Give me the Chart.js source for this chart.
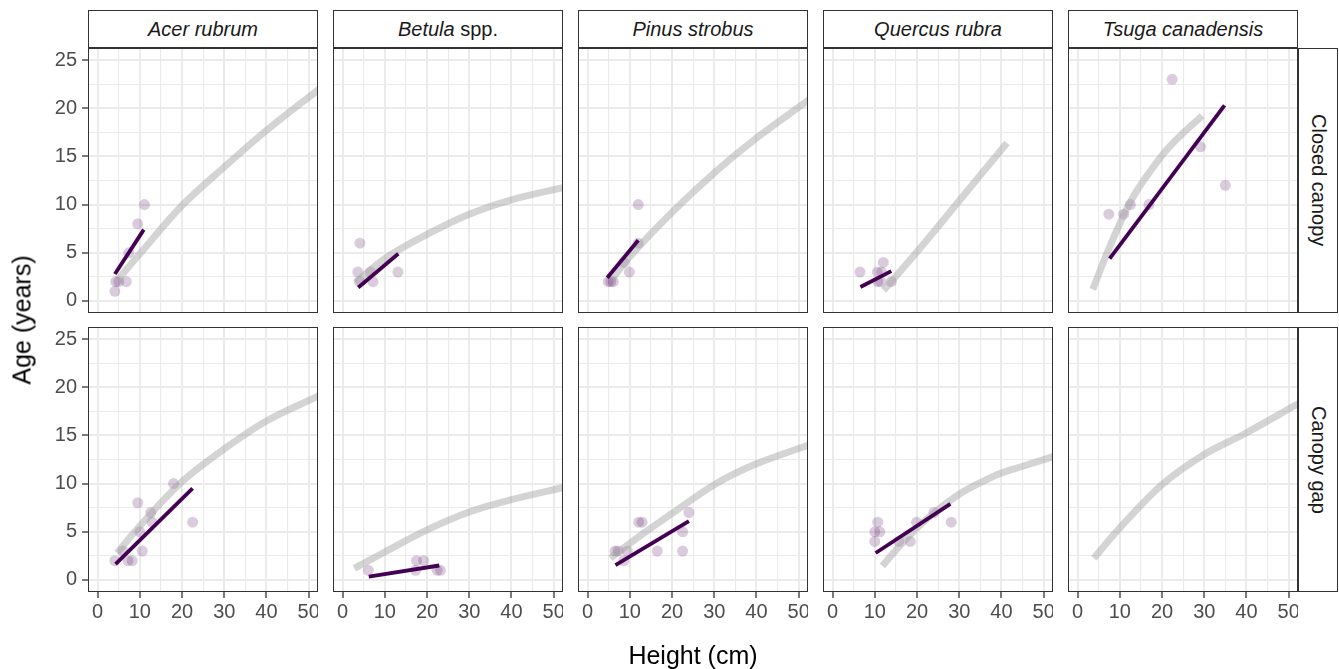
<!DOCTYPE html>
<html>
<head>
<meta charset="utf-8">
<script src="https://cdn.jsdelivr.net/npm/chart.js@4"></script>
<style>
  body { margin: 0; background: #fff; font-family: "Liberation Sans", Arial, sans-serif; }
  #wrap { position: relative; width: 1339px; height: 669px; overflow: hidden; }
  canvas { position: absolute; }
  .strip { position: absolute; box-sizing: border-box; border: 1px solid #333; background: #fff;
           display: flex; align-items: center; justify-content: center; color: #1a1a1a; font-size: 20px; }
  .strip.top { font-style: italic; }
  .strip.top span { font-style: normal; }
  .strip.side { writing-mode: vertical-rl; }
  .title { position: absolute; font-size: 25px; color: #000; white-space: nowrap; }
</style>
</head>
<body>
<div id="wrap"></div>
<script>
// Faceted age ~ height panels: species across, canopy condition down.
// Each panel: observed points, a purple linear fit and a grey reference curve.

var SPECIES = ["Acer rubrum", "Betula spp.", "Pinus strobus", "Quercus rubra", "Tsuga canadensis"];
var CANOPY = ["Closed canopy", "Canopy gap"];
var X_TICKS = [0, 10, 20, 30, 40, 50];
var X_MINOR = [5, 15, 25, 35, 45];
var Y_TICKS = [0, 5, 10, 15, 20, 25];
var Y_MINOR = [2.5, 7.5, 12.5, 17.5, 22.5];

// closed canopy: [height, age]
var acerClosedPts = [[4.1, 1], [4.3, 2], [5.0, 2], [6.8, 2], [7.4, 5], [9.5, 8], [11.1, 10]];
var acerClosedFit = [[4.1, 2.8], [10.95, 7.4]];
var acerClosedRef = [[4.8, 2.2], [10, 4.9], [20, 9.9], [30, 13.9], [40, 17.7], [52.5, 22]];

var betulaClosedPts = [[3.6, 3], [4.0, 2], [4.1, 6], [6.6, 3], [7.2, 2], [13.1, 3]];
var betulaClosedFit = [[3.7, 1.4], [13.2, 4.9]];
var betulaClosedRef = [[3.1, 1.9], [10, 4.4], [20, 6.9], [30, 9.0], [40, 10.5], [52.5, 11.8]];

var pinusClosedPts = [[4.9, 2], [5.5, 2], [6.1, 2], [8.6, 4], [9.9, 3], [12, 6], [12, 10]];
var pinusClosedFit = [[4.65, 2.4], [12, 6.3]];
var pinusClosedRef = [[5.7, 2.2], [10, 4.6], [20, 9.2], [30, 13.3], [40, 16.9], [52.5, 20.9]];

var quercusClosedPts = [[6.5, 3], [10.7, 2], [10.6, 3], [11.4, 2], [11.6, 3], [12, 4], [13.9, 2]];
var quercusClosedFit = [[6.6, 1.45], [13.9, 3.1]];
var quercusClosedRef = [[12.1, 1.1], [20, 5.1], [30, 10.4], [41.3, 16.4]];

var tsugaClosedPts = [[7.4, 9], [10.9, 9], [12.5, 10], [16.9, 10], [22.4, 23], [29.1, 16], [35, 12]];
var tsugaClosedFit = [[7.6, 4.4], [34.8, 20.3]];
var tsugaClosedRef = [[3.6, 1.2], [7.4, 5.4], [12.9, 10.6], [20, 15.1], [24.7, 17.3], [29.5, 19.2]];

// canopy gap
var acerGapPts = [[4.1, 2], [6, 3], [7.2, 2], [8.2, 2], [9.5, 8], [10, 5], [10.6, 3], [12.6, 7], [12.9, 6], [18, 10], [22.5, 6]];
var acerGapFit = [[4.25, 1.65], [22.5, 9.5]];
var acerGapRef = [[4.6, 2.8], [10, 5.6], [20, 10.2], [30, 13.6], [40, 16.5], [52.3, 19.1]];

var betulaGapPts = [[6.1, 1], [17.3, 1], [17.5, 2], [19.2, 2], [22.4, 1], [23.2, 1]];
var betulaGapFit = [[6.2, 0.35], [22.9, 1.5]];
var betulaGapRef = [[2.8, 1.2], [10, 2.9], [20, 5.2], [30.3, 7.1], [39.7, 8.3], [52.3, 9.6]];

var pinusGapPts = [[6.5, 3], [7.2, 3], [8.6, 2], [9.4, 3], [12.1, 6], [12.9, 6], [16.5, 3], [22.5, 3], [22.5, 5], [24, 7]];
var pinusGapFit = [[6.6, 1.55], [24, 6.1]];
var pinusGapRef = [[5.4, 2.25], [10, 3.8], [20, 6.9], [30.3, 9.96], [39.7, 12], [52.3, 14]];

var quercusGapPts = [[10, 4], [10, 5], [10.7, 6], [11.2, 5], [15.7, 4], [18.4, 4], [19.9, 6], [24, 7], [28.1, 6]];
var quercusGapFit = [[10.2, 2.8], [27.9, 7.9]];
var quercusGapRef = [[11.8, 1.45], [15, 3.1], [20, 5.4], [25, 7.3], [30, 8.9], [35, 10.1], [40, 11.1], [45, 11.8], [52.3, 12.8]];

var tsugaGapPts = [];
var tsugaGapFit = [];
var tsugaGapRef = [[3.85, 2.25], [10, 5.4], [20, 9.9], [29.9, 13.0], [39.7, 15.2], [52.3, 18.3]];

var PANELS = [
  [[acerClosedPts, acerClosedFit, acerClosedRef], [betulaClosedPts, betulaClosedFit, betulaClosedRef],
   [pinusClosedPts, pinusClosedFit, pinusClosedRef], [quercusClosedPts, quercusClosedFit, quercusClosedRef],
   [tsugaClosedPts, tsugaClosedFit, tsugaClosedRef]],
  [[acerGapPts, acerGapFit, acerGapRef], [betulaGapPts, betulaGapFit, betulaGapRef],
   [pinusGapPts, pinusGapFit, pinusGapRef], [quercusGapPts, quercusGapFit, quercusGapRef],
   [tsugaGapPts, tsugaGapFit, tsugaGapRef]]
];

var PURPLE = "#440154";
var PANEL_W = 230, PANEL_H = 265, COL_STEP = 245, LEFT0 = 88;
var ROW_TOP = [48, 327];

Chart.defaults.font.family = "'Liberation Sans', Arial, sans-serif";

function xy(pairs) {
  return pairs.map(function (p) { return { x: p[0], y: p[1] }; });
}

var panelBorder = {
  id: "panelBorder",
  afterDraw: function (chart) {
    var a = chart.chartArea, c = chart.ctx;
    c.save();
    c.strokeStyle = "#333";
    c.lineWidth = 1;
    c.strokeRect(a.left + 0.5, a.top + 0.5, a.right - a.left - 1, a.bottom - a.top - 1);
    c.restore();
  }
};

function axis(major, minor, min, max, showLabels, size, horizontal) {
  var all = major.concat(minor).sort(function (a, b) { return a - b; });
  var isMajor = function (ctx) { return ctx.tick && major.indexOf(ctx.tick.value) >= 0; };
  return {
    type: "linear", min: min, max: max,
    afterBuildTicks: function (s) { s.ticks = all.map(function (v) { return { value: v }; }); },
    afterFit: function (s) {
      if (horizontal) s.height = size; else s.width = size;
      s.paddingLeft = 0; s.paddingRight = 0; s.paddingTop = 0; s.paddingBottom = 0;
    },
    border: { display: false },
    grid: {
      color: "#ebebeb",
      lineWidth: function (ctx) { return isMajor(ctx) ? 2 : 1.1; },
      drawTicks: showLabels, tickLength: 6, tickWidth: 1.3,
      tickColor: function (ctx) { return isMajor(ctx) ? "#333" : "rgba(0,0,0,0)"; }
    },
    ticks: {
      display: showLabels, autoSkip: false, maxRotation: 0, padding: horizontal ? 2 : 5,
      color: "#4d4d4d", font: { size: 20 },
      callback: function (v) { return major.indexOf(v) >= 0 ? String(v) : ""; }
    }
  };
}

function makePanel(wrap, row, col) {
  var sets = PANELS[row][col];
  var yW = col === 0 ? LEFT0 : 0;
  var xH = row === 1 ? 52 : 0;
  var left = LEFT0 + COL_STEP * col - yW;
  var cv = document.createElement("canvas");
  cv.width = PANEL_W + yW; cv.height = PANEL_H + xH;
  cv.style.left = left + "px"; cv.style.top = ROW_TOP[row] + "px";
  wrap.appendChild(cv);

  var datasets = [];
  if (sets[1].length) datasets.push({ type: "line", data: xy(sets[1]), borderColor: PURPLE,
    borderWidth: 3.8, borderCapStyle: "butt", pointRadius: 0, tension: 0, order: 0 });
  datasets.push({ type: "line", data: xy(sets[2]), borderColor: "rgba(160,160,160,0.45)",
    borderWidth: 7, borderCapStyle: "butt", pointRadius: 0, tension: 0.35, order: 1 });
  if (sets[0].length) datasets.push({ type: "scatter", data: xy(sets[0]), pointRadius: 5.5,
    pointBackgroundColor: "rgba(68,1,84,0.2)", pointBorderWidth: 0, order: 2 });

  new Chart(cv, {
    type: "scatter",
    data: { datasets: datasets },
    options: {
      responsive: false, animation: false, events: [],
      layout: { padding: 0, autoPadding: false },
      plugins: { legend: { display: false }, tooltip: { enabled: false } },
      scales: {
        x: axis(X_TICKS, X_MINOR, -2.27, 52.2, row === 1, xH, true),
        y: axis(Y_TICKS, Y_MINOR, -1.25, 26.25, col === 0, yW, false)
      }
    },
    plugins: [panelBorder]
  });
}

function strip(wrap, cls, left, top, w, h, html) {
  var d = document.createElement("div");
  d.className = "strip " + cls;
  d.style.left = left + "px"; d.style.top = top + "px";
  d.style.width = w + "px"; d.style.height = h + "px";
  d.innerHTML = html;
  wrap.appendChild(d);
}

function render() {
  var wrap = document.getElementById("wrap");
  for (var r = 0; r < 2; r++)
    for (var c = 0; c < SPECIES.length; c++) makePanel(wrap, r, c);

  SPECIES.forEach(function (name, c) {
    var html = name.replace(/^(\S+) spp\.$/, "$1<span>&nbsp;spp.</span>");
    strip(wrap, "top", LEFT0 + COL_STEP * c, 10, PANEL_W, 38, html);
  });
  CANOPY.forEach(function (name, r) {
    strip(wrap, "side", LEFT0 + COL_STEP * 4 + PANEL_W, ROW_TOP[r], 40, PANEL_H, name);
  });

  var xt = document.createElement("div");
  xt.className = "title"; xt.textContent = "Height (cm)";
  xt.style.left = "693px"; xt.style.top = "655px"; xt.style.transform = "translate(-50%,-50%)";
  wrap.appendChild(xt);
  var yt = document.createElement("div");
  yt.className = "title"; yt.textContent = "Age (years)";
  yt.style.left = "22px"; yt.style.top = "320px";
  yt.style.transform = "translate(-50%,-50%) rotate(-90deg)";
  wrap.appendChild(yt);
}

render();
</script>
</body>
</html>
